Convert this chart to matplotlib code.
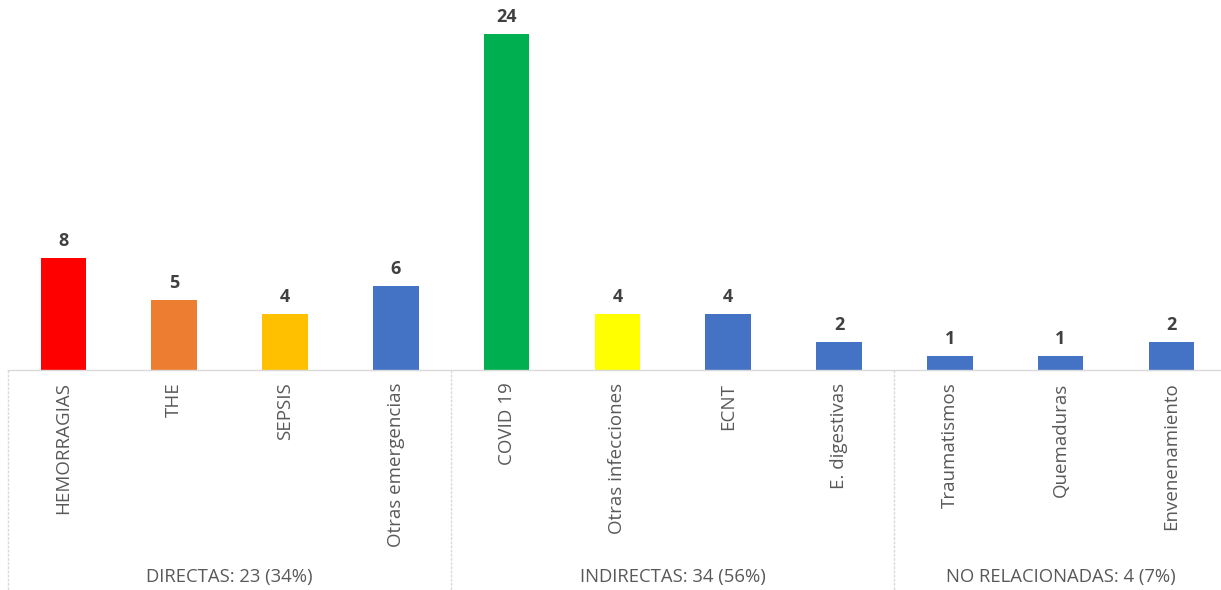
import matplotlib
matplotlib.use("Agg")
import matplotlib.pyplot as plt

# Causas de muerte materna agrupadas
causas = ["HEMORRAGIAS", "THE", "SEPSIS", "Otras emergencias",
          "COVID 19", "Otras infecciones", "ECNT", "E. digestivas",
          "Traumatismos", "Quemaduras", "Envenenamiento"]
casos = [8, 5, 4, 6, 24, 4, 4, 2, 1, 1, 2]
colores = ["#FF0000", "#ED7D31", "#FFC000", "#4472C4",
           "#00B050", "#FFFF00", "#4472C4", "#4472C4",
           "#4472C4", "#4472C4", "#4472C4"]

grupos = ["DIRECTAS: 23 (34%)", "INDIRECTAS: 34 (56%)", "NO RELACIONADAS: 4 (7%)"]
grupo_n = [4, 4, 3]

plt.rcParams["font.family"] = ["Open Sans", "DejaVu Sans"]

W, H = 1221, 590
fig = plt.figure(figsize=(W / 100, H / 100), dpi=100)
# eje de categorias: 11 casillas de ~110.8 px desde x=8, linea base en y=370
x0, step = 8, 110.8
ax = fig.add_axes([x0 / W, (H - 370) / H, step * 11 / W, 370 / H])

xs = list(range(len(causas)))
bars = ax.bar(xs, casos, width=0.41, color=colores)
ax.set_xlim(-0.5, len(causas) - 0.5)
ax.set_ylim(0, 370 / 14)

for b, v in zip(bars, casos):
    ax.annotate(str(v), (b.get_x() + b.get_width() / 2, v),
                xytext=(0, 6), textcoords="offset points",
                ha="center", va="bottom", fontsize=13, fontweight="bold",
                color="#404040")

for s in ["top", "left", "right"]:
    ax.spines[s].set_visible(False)
ax.spines["bottom"].set_color("#D9D9D9")
ax.spines["bottom"].set_linestyle((0, (2, 1)))
ax.spines["bottom"].set_linewidth(1)
ax.set_yticks([])
ax.set_xticks(xs)
ax.set_xticklabels(causas, rotation=90, fontsize=13.5, color="#595959")
ax.tick_params(axis="x", length=0, pad=9)

# separadores y rotulos de grupo bajo el eje
tr = ax.get_xaxis_transform()
ybot = -220 / 370
start = -0.5
edges = [start]
for nombre, n in zip(grupos, grupo_n):
    end = start + n
    ax.text((start + end) / 2, -207 / 370, nombre, transform=tr,
            ha="center", va="center", fontsize=13.3, color="#595959")
    edges.append(end)
    start = end
for e in edges:
    ax.plot([e, e], [0, ybot], transform=tr, color="#D9D9D9",
            linestyle=(0, (2, 1)), linewidth=1, clip_on=False)

fig.savefig("out.png", dpi=100)
